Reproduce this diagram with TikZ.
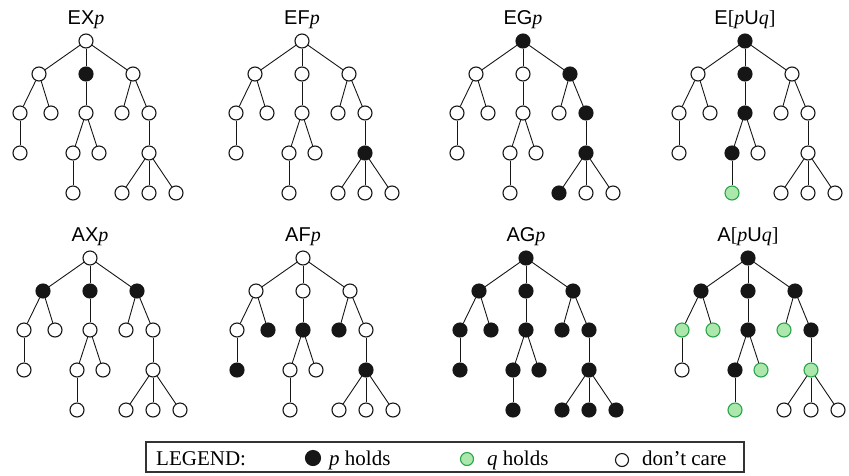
\documentclass[tikz,border=0pt]{standalone}
\usepackage{fontspec}
\setmainfont{Liberation Serif}
\setsansfont{Liberation Sans}
\newcommand\itv[1]{{\rmfamily\itshape #1}}
\definecolor{qgreen}{RGB}{172,232,172}
\definecolor{qborder}{RGB}{40,165,75}
\definecolor{pblack}{RGB}{22,22,22}
\tikzset{
 nd/.style={circle, line width=1.1pt, minimum size=14pt, inner sep=0pt},
 edge/.style={line width=0.9pt, draw=pblack},
 ttl/.style={anchor=base, font=\fontsize{20}{24}\selectfont\sffamily, inner sep=0pt},
 lgtext/.style={anchor=base west, font=\fontsize{21}{25}\selectfont, inner sep=0pt},
}
\newcommand\drawtree[6]{%
 \node[ttl] (#1t) at (#2,#3-17) {#4};
 \foreach \id/\dx/\dy in {root/0/0,a/-47/33,b/0/33,c/47/33,a1/-66/72,a2/-35/72,b1/0/72,c1/36/72,c2/63/72,a11/-66/112,b11/-13/112,b12/13/112,c21/63/112,b111/-13/152,c211/36/152,c212/63/152,c213/90/152}{%
   \gdef\curfill{white}\gdef\curdraw{pblack}%
   \foreach \k in {#5}{\edef\tmpa{\id}\edef\tmpb{\k}\ifx\tmpa\tmpb\gdef\curfill{pblack}\fi}%
   \foreach \k in {#6}{\edef\tmpa{\id}\edef\tmpb{\k}\ifx\tmpa\tmpb\gdef\curfill{qgreen}\gdef\curdraw{qborder}\fi}%
   \node[nd, fill=\curfill, draw=\curdraw] (#1\id) at (#2+\dx,#3+\dy) {};
 }
 \foreach \p/\c in {root/a,root/b,root/c,a/a1,a/a2,b/b1,c/c1,c/c2,a1/a11,b1/b11,b1/b12,c2/c21,b11/b111,c21/c211,c21/c212,c21/c213}
   \draw[edge] (#1\p) -- (#1\c);
}
\begin{document}
\begin{tikzpicture}[x=1pt,y=-1pt]
\useasboundingbox (0,0) rectangle (849,475);
\drawtree{ex}{86}{41}{EX\itv{p}}{b}{}
\drawtree{ef}{302}{41}{EF\itv{p}}{c21}{}
\drawtree{eg}{523}{41}{EG\itv{p}}{root,c,c2,c21,c211}{}
\drawtree{eu}{745}{41}{E{\rmfamily[}\itv{p}U\itv{q}{\rmfamily]}}{root,b,b1,b11}{b111}
\drawtree{ax}{90}{258}{AX\itv{p}}{a,b,c}{}
\drawtree{af}{303}{258}{AF\itv{p}}{a2,b1,c1,a11,c21}{}
\drawtree{ag}{526}{258}{AG\itv{p}}{root,a,b,c,a1,a2,b1,c1,c2,a11,b11,b12,c21,b111,c211,c212,c213}{}
\drawtree{au}{748}{258}{A{\rmfamily[}\itv{p}U\itv{q}{\rmfamily]}}{root,a,b,c,b1,c2,b11}{a1,a2,c1,b12,c21,b111}
% legend
\node[draw=black!80, line width=1.2pt, minimum width=598pt, minimum height=30pt, inner sep=0pt] (legend) at (445,457) {};
\node[lgtext] (lgtitle) at (156,465) {LEGEND:};
\node[nd, minimum size=15pt, fill=pblack, draw=pblack] (lgp) at (313,458) {};
\node[lgtext] (lgptext) at (329,465) {\itshape p\upshape\ holds};
\node[nd, minimum size=13pt, fill=qgreen, draw=qborder] (lgq) at (467,459) {};
\node[lgtext] (lgqtext) at (487,465) {\itshape q\upshape\ holds};
\node[nd, minimum size=13pt, fill=white, draw=pblack] (lgw) at (622,460) {};
\node[lgtext] (lgwtext) at (642,465) {don’t care};
\end{tikzpicture}
\end{document}
